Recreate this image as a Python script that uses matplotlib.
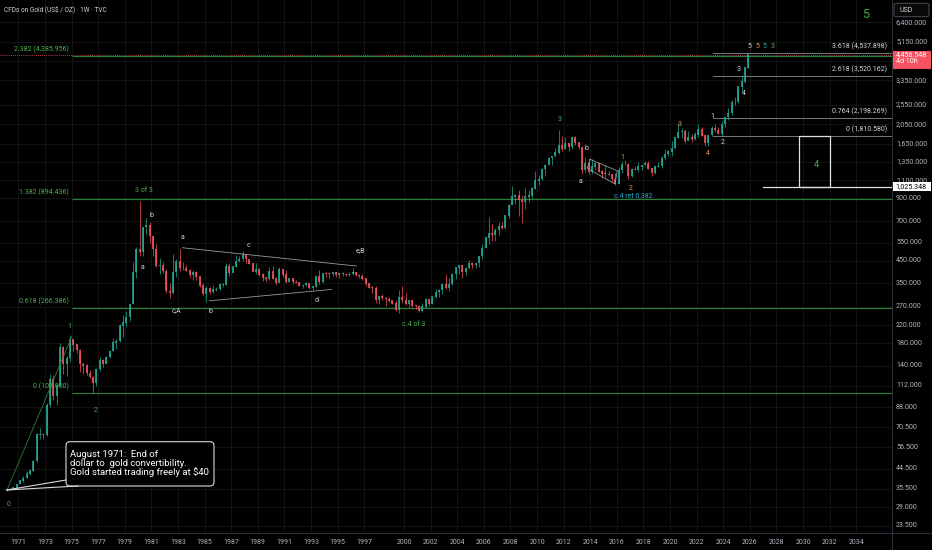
import numpy as np
import matplotlib
matplotlib.use("Agg")
import matplotlib.pyplot as plt
from matplotlib.patches import Rectangle, FancyBboxPatch
from matplotlib.transforms import IdentityTransform, blended_transform_factory

plt.rcParams['font.family'] = ['Roboto', 'DejaVu Sans']

# ---------------- data (quarterly candles) ----------------
start_year = 1970
first_open = 35.2
q_close = [35.3, 35.4, 36.0, 37.4, 38.9, 40.1, 42.0, 43.5, 48.3, 65.0, 65.5, 64.9,
           90.0, 120.0, 100.0, 112.0, 172, 143, 152, 187, 177, 166, 142, 140,
           129, 123, 116, 135, 149, 143, 154, 165, 181, 184, 218, 226,
           240, 277, 397, 512, 494, 653, 666, 590, 513, 422, 428, 400,
           320, 315, 397, 447, 414, 413, 403, 382, 394, 377, 341, 309,
           330, 317, 326, 327, 345, 345, 423, 391, 421, 447, 459, 484,
           457, 436, 397, 410, 385, 373, 367, 401, 369, 352, 408, 386,
           356, 368, 354, 353, 341, 343, 349, 333, 337, 378, 356, 391,
           389, 388, 395, 383, 392, 387, 384, 387, 396, 382, 379, 369,
           348, 334, 332, 290, 301, 296, 294, 288, 279, 261, 299, 290,
           278, 288, 273, 272, 258, 270, 293, 279, 302, 318, 324, 347,
           334, 346, 388, 416, 427, 395, 415, 438, 428, 437, 473, 517,
           582, 613, 599, 632, 662, 650, 743, 834, 916, 930, 884, 869,
           916, 927, 1003, 1095, 1113, 1244, 1307, 1405, 1439, 1500, 1620, 1566,
           1662, 1598, 1772, 1675, 1595, 1234, 1326, 1202, 1283, 1327, 1211, 1184,
           1183, 1172, 1115, 1061, 1234, 1321, 1316, 1152, 1249, 1242, 1280, 1303,
           1325, 1252, 1192, 1282, 1292, 1409, 1472, 1517, 1577, 1768, 1886, 1895,
           1708, 1770, 1743, 1829, 1937, 1807, 1661, 1824, 1969, 1919, 1849, 2063,
           2230, 2327, 2635, 2625, 3124, 3303, 3859, 4456.548]
q_high = [35.5, 35.8, 36.3, 37.6, 39.2, 40.9, 43.5, 44.0, 49.0, 66.5, 70.0, 66.0,
          92.0, 127.0, 126.0, 115.0, 180, 175, 155, 197, 186, 178, 168, 145,
          142, 133, 125, 137, 154, 150, 156, 166, 190, 188, 222, 245,
          256, 281, 445, 525, 873, 655, 720, 690, 600, 545, 463, 445,
          410, 350, 485, 460, 511, 445, 430, 410, 405, 400, 365, 350,
          340, 335, 345, 335, 352, 350, 440, 440, 421, 478, 472, 502,
          485, 460, 440, 440, 415, 392, 375, 418, 424, 375, 418, 410,
          405, 372, 370, 365, 356, 345, 356, 350, 338, 380, 406, 392,
          397, 396, 398, 397, 393, 396, 388, 396, 416, 398, 389, 389,
          368, 355, 338, 340, 304, 312, 300, 300, 292, 290, 325, 338,
          315, 292, 292, 275, 274, 280, 298, 295, 304, 330, 330, 350,
          388, 372, 391, 417, 430, 428, 418, 456, 444, 441, 476, 540,
          584, 730, 680, 650, 690, 694, 746, 845, 1033, 945, 990, 930,
          1007, 990, 1025, 1226, 1162, 1265, 1315, 1432, 1448, 1577, 1920, 1803,
          1792, 1677, 1790, 1796, 1694, 1616, 1434, 1362, 1392, 1332, 1345, 1238,
          1307, 1224, 1178, 1191, 1282, 1358, 1375, 1338, 1264, 1296, 1357, 1310,
          1366, 1365, 1262, 1285, 1346, 1439, 1557, 1535, 1703, 1789, 2075, 1966,
          1959, 1916, 1834, 1877, 2070, 1998, 1814, 1833, 2009, 2063, 1987, 2135,
          2236, 2450, 2685, 2790, 3148, 3500, 3872, 4470]
q_low = [34.8, 35.1, 35.2, 35.8, 37.3, 38.5, 40.0, 41.5, 43.2, 48.0, 62.0, 62.0,
         64.0, 88.0, 95.0, 90.0, 112, 128, 125, 145, 165, 162, 130, 128,
         126, 122, 103, 112, 132, 138, 142, 152, 165, 168, 183, 193,
         216, 230, 277, 370, 474, 475, 605, 550, 475, 418, 390, 391,
         315, 297, 310, 375, 400, 405, 400, 372, 365, 365, 335, 308,
         285, 310, 313, 320, 326, 335, 342, 380, 392, 420, 445, 450,
         440, 436, 395, 390, 380, 360, 355, 365, 368, 345, 355, 375,
         350, 355, 346, 350, 339, 332, 338, 330, 326, 336, 348, 350,
         375, 372, 380, 375, 370, 381, 380, 380, 385, 380, 373, 365,
         340, 333, 315, 282, 279, 290, 272, 283, 277, 257, 252, 280,
         275, 270, 268, 264, 255, 255, 265, 272, 277, 297, 302, 310,
         328, 320, 342, 368, 390, 372, 385, 410, 411, 416, 418, 458,
         518, 542, 560, 560, 600, 640, 642, 720, 845, 850, 740, 681,
         800, 865, 905, 1000, 1045, 1110, 1157, 1307, 1308, 1420, 1480, 1522,
         1560, 1527, 1560, 1636, 1554, 1180, 1208, 1187, 1182, 1240, 1206, 1131,
         1142, 1162, 1077, 1046, 1061, 1200, 1306, 1123, 1146, 1240, 1205, 1236,
         1302, 1250, 1160, 1182, 1277, 1266, 1381, 1445, 1451, 1567, 1764, 1765,
         1677, 1723, 1690, 1722, 1780, 1805, 1615, 1617, 1805, 1893, 1846, 1810,
         1985, 2146, 2286, 2536, 2615, 2957, 3247, 3847]

price_ticks = [6400, 5150, 3350, 2550, 2050, 1650, 1350, 1100, 900, 700, 550, 450,
               350, 270, 220, 180, 140, 112, 88, 70.5, 56.5, 44.5, 35.5, 29, 23.5]
year_ticks = list(range(1971, 1998, 2)) + list(range(2000, 2035, 2))

# fib levels
left_fib_levels = [4385.956, 894.436, 266.386, 103.000]
left_fib_names = ["2.382 (4,385.956)", "1.382 (894.436)", "0.618 (266.386)", "0 (103.000)"]
right_fib_levels = [4537.898, 3520.162, 2198.269, 1810.580]
right_fib_names = ["3.618 (4,537.898)", "2.618 (3,520.162)", "0.764 (2,198.269)", "0 (1,810.580)"]
support_level = 1025.348
last_price = 4456.548

GREEN = '#4caf50'
WHITE = '#d1d4dc'
ORANGE = '#e89a3c'
TEAL = '#26a69a'
CYAN = '#29a9d0'
wave_labels = [
    ("0", 1970.27, 29.7, GREEN), ("1", 1974.83, 216, GREEN), ("2", 1976.84, 85.4, GREEN),
    ("3 of 3", 1980.47, 988, GREEN), ("a", 1980.32, 418, WHITE), ("b", 1981.03, 748, WHITE),
    ("c,A", 1982.91, 257, WHITE), ("a", 1983.36, 584, WHITE), ("b", 1985.46, 255, WHITE),
    ("c", 1988.29, 536, WHITE), ("d", 1993.43, 288, WHITE), ("e,B", 1996.69, 503, WHITE),
    ("c.4 of 3", 2000.70, 221.8, GREEN), ("3", 2011.72, 2155, '#3cb879'),
    ("a", 2013.28, 1084, WHITE), ("b", 2013.73, 1573, WHITE),
    ("1", 2016.44, 1416, ORANGE), ("2", 2017.01, 1007, ORANGE),
    ("c.4 ret 0,382", 2017.24, 928, CYAN),
    ("3", 2020.75, 2045, ORANGE), ("4", 2022.83, 1487, ORANGE),
    ("1", 2023.21, 2235, WHITE), ("2", 2023.93, 1677, WHITE),
    ("3", 2025.13, 3759, WHITE), ("4", 2025.56, 2900, WHITE),
    ("5", 2025.94, 4873, WHITE), ("5", 2026.54, 4873, ORANGE),
    ("5", 2027.12, 4873, TEAL), ("3", 2027.69, 4873, GREEN),
]

# drawn lines (year, price)
triangle_upper = [(1983.33, 520), (1996.44, 424)]
triangle_lower = [(1985.36, 288), (1994.56, 327)]
channel = [(2013.98, 1391), (2016.03, 1225), (2015.86, 1057), (2013.78, 1259), (2013.98, 1391)]
impulse_line = [(1970.15, 35.1), (1975.01, 193)]
box_years = (2029.72, 2032.05)

# ---------------- figure ----------------
W, H = 932, 550
PR, PB = 892, 533
fig = plt.figure(figsize=(W / 100, H / 100), dpi=100, facecolor='#000000')
ax = fig.add_axes([0, (H - PB) / H, PR / W, PB / H])
ax.set_facecolor('#000000')
ax.set_yscale('log')
x0 = 1969.62
pxy = 13.3  # px per year
ax.set_xlim(x0, x0 + PR / pxy)
k = 89.85
ax.set_ylim(350 * np.exp(-(PB - 283.3) / k), 350 * np.exp(283.3 / k))
for s in ax.spines.values():
    s.set_visible(False)
ax.yaxis.set_major_locator(matplotlib.ticker.NullLocator())
ax.yaxis.set_minor_locator(matplotlib.ticker.NullLocator())
ax.xaxis.set_minor_locator(matplotlib.ticker.NullLocator())
ax.set_xticks(year_ticks)
ax.set_xticklabels([str(y) for y in year_ticks])
ax.tick_params(axis='x', length=0, pad=4, colors='#b2b5be', labelsize=5.0)

GRID = '#131313'
for p in price_ticks + [4150]:
    ax.axhline(p, color=GRID, lw=0.7, zorder=0)
for y in year_ticks:
    ax.axvline(y, color=GRID, lw=0.7, zorder=0)

# candles
closes = np.array(q_close, float)
highs = np.array(q_high, float)
lows = np.array(q_low, float)
opens = np.concatenate([[first_open], closes[:-1]])
xq = start_year + 0.125 + 0.25 * np.arange(len(closes))
UP, DN = '#22ab94', '#f7525f'
cols = np.where(closes >= opens, UP, DN)
ax.vlines(xq, lows, highs, colors=cols, lw=0.5, zorder=3)
bot = np.minimum(opens, closes)
top = np.maximum(opens, closes) * 1.004
ax.vlines(xq, bot, top, colors=cols, lw=1.2, zorder=3)

# current price line
ax.axhline(last_price, color=DN, lw=0.6, ls=(0, (1, 1.5)), zorder=2)

# fib levels
FIBG = '#2a8038'
lx0 = x0 + 72 / pxy
lab_l = x0 + 69 / pxy
off = np.exp(6.5 / k)
for lv, nm in zip(left_fib_levels, left_fib_names):
    ax.plot([lx0, ax.get_xlim()[1]], [lv, lv], color=FIBG, lw=0.85, zorder=2,
            solid_capstyle='butt')
    ax.text(lab_l, lv * off, nm, color=GREEN, fontsize=5.0, ha='right', va='center', zorder=5)
rx0 = x0 + 712.7 / pxy
lab_r = x0 + 887 / pxy
for lv, nm in zip(right_fib_levels, right_fib_names):
    ax.plot([rx0, ax.get_xlim()[1]], [lv, lv], color='#8a8d96', lw=0.6, zorder=2)
    ax.text(lab_r, lv * off, nm, color=WHITE, fontsize=5.0, ha='right', va='center', zorder=5)

# support level and box
ax.plot([x0 + 762.7 / pxy, ax.get_xlim()[1]], [support_level, support_level], color='#e0e0e0', lw=0.9, zorder=2)
ax.add_patch(Rectangle((box_years[0], support_level), box_years[1] - box_years[0],
                       right_fib_levels[3] - support_level, fill=False, ec='#e0e0e0', lw=0.9, zorder=4))
ax.text(2031.03, 1316, "4", color=GREEN, fontsize=6.8, ha='center', va='center', zorder=5)

# trend / pattern lines
for seg, c in [(triangle_upper, '#9598a1'), (triangle_lower, '#9598a1'), (channel, '#9598a1'),
               (impulse_line, FIBG)]:
    xs, ys = zip(*seg)
    ax.plot(xs, ys, color=c, lw=0.6, zorder=4)

# wave labels
for t, xx, yy, c in wave_labels:
    ax.text(xx, yy, t, color=c, fontsize=5.0, ha='center', va='center', zorder=6)

ax.text(x0 + 866 / pxy, 7010, "5", color=GREEN, fontsize=9, ha='center', va='center', zorder=6)

# ---------------- annotation bubble (pixel coords) ----------------
def P(px, py):
    return (px, H - py)

idt = IdentityTransform()
bub = FancyBboxPatch(P(66, 486), 148, 44.3, boxstyle="round,pad=0,rounding_size=4",
                     transform=idt, fc='#000000', ec='#d8d8d8', lw=0.8, zorder=10)
fig.add_artist(bub)
for a in [(66, 480), (78, 486)]:
    fig.add_artist(plt.Line2D([P(*a)[0], P(6.7, 490)[0]], [P(*a)[1], P(6.7, 490)[1]],
                              transform=idt, color='#d8d8d8', lw=0.8, zorder=10))
fig.text(70.5 / W, 1 - 463.8 / H,
         "August 1971:  End of\ndollar to  gold convertibility.\nGold started trading freely at $40",
         color='#ffffff', fontsize=6.8, ha='left', va='center', linespacing=0.95, zorder=11)

# title
fig.text(4 / W, 1 - 10 / H, "CFDs on Gold (US$ / OZ) · 1W · TVC", color='#d1d4dc',
         fontsize=4.7, ha='left', va='center')

# ---------------- price axis ----------------
fig.add_artist(plt.Line2D([PR / W, PR / W], [0, 1], transform=fig.transFigure, color='#2a2e39', lw=0.8))
fig.add_artist(plt.Line2D([0, 1], [(H - PB) / H, (H - PB) / H], transform=fig.transFigure,
                          color='#2a2e39', lw=0.8))
btr = blended_transform_factory(fig.transFigure, ax.transData)
for p in price_ticks:
    ax.text(896 / W, p, f"{p:,.3f}", transform=btr, color='#b2b5be', fontsize=5.1,
            ha='left', va='center', clip_on=False)

# current price box
yl = ax.transData.transform((2000, last_price))[1]
fig.add_artist(Rectangle((892.5, yl - 14.3), 38, 18.3, transform=idt, fc='#f7525f', ec='none', zorder=12))
fig.text(895.5 / W, (yl) / H, f"{last_price:,.3f}", color='#ffffff', fontsize=5.1,
         ha='left', va='center', zorder=13)
fig.text(895.5 / W, (yl - 7) / H, "4d 10h", color='#ffffff', fontsize=5.1,
         ha='left', va='center', zorder=13)

# support box
ys = ax.transData.transform((2000, support_level))[1]
fig.add_artist(Rectangle((892.5, ys - 4.5), 38, 9, transform=idt, fc='#ffffff', ec='none', zorder=12))
fig.text(895.5 / W, ys / H, f"{support_level:,.3f}", color='#000000', fontsize=5.1,
         ha='left', va='center', zorder=13)

# USD button
fig.add_artist(FancyBboxPatch(P(894, 16.7), 35, 13.4, boxstyle="round,pad=0,rounding_size=2",
                              transform=idt, fc='#0a0a0a', ec='#434651', lw=0.8, zorder=12))
fig.text(899 / W, 1 - 10 / H, "USD", color='#d1d4dc', fontsize=5.0, ha='left', va='center', zorder=13)

fig.savefig("out.png", dpi=100, facecolor='#000000')
